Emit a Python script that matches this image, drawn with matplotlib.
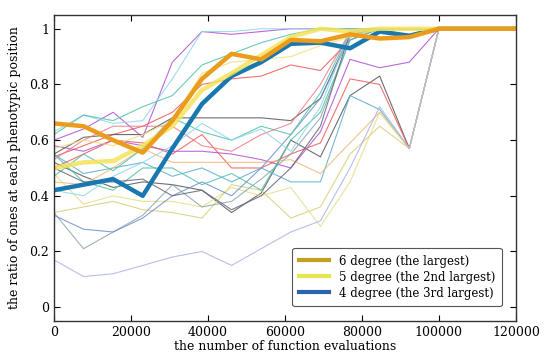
import numpy as np
import matplotlib
matplotlib.use("Agg")
import matplotlib.pyplot as plt
from matplotlib.lines import Line2D

plt.rcParams["font.family"] = "DejaVu Serif"

# evaluation points (last one is the end of the run)
evals = [0, 7692, 15385, 23077, 30769, 38462, 46154, 53846, 61538,
         69231, 76923, 84615, 92308, 100000, 120000]

# thick lines: the three largest-degree positions
deg6 = [0.66, 0.65, 0.60, 0.555, 0.67, 0.82, 0.91, 0.89, 0.96, 0.955, 0.98, 0.965, 0.97, 1.0, 1.0]
deg5 = [0.50, 0.52, 0.525, 0.58, 0.65, 0.78, 0.84, 0.905, 0.97, 1.0, 0.99, 1.0, 1.0, 1.0, 1.0]
deg4 = [0.42, 0.44, 0.46, 0.40, 0.57, 0.73, 0.83, 0.88, 0.946, 0.95, 0.93, 0.99, 0.975, 1.0, 1.0]

# thin lines: all other positions
others = [
    [0.60, 0.64, 0.70, 0.61, 0.88, 0.99, 0.98, 0.99, 1.0, 1.0, 1.0, 1.0, 1.0, 1.0, 1.0],
    [0.63, 0.69, 0.66, 0.67, 0.82, 0.99, 0.99, 1.0, 1.0, 1.0, 1.0, 1.0, 1.0, 1.0, 1.0],
    [0.62, 0.69, 0.67, 0.72, 0.76, 0.87, 0.91, 0.95, 0.98, 1.0, 1.0, 1.0, 1.0, 1.0, 1.0],
    [0.54, 0.58, 0.62, 0.65, 0.70, 0.80, 0.82, 0.83, 0.87, 0.85, 0.96, 1.0, 1.0, 1.0, 1.0],
    [0.55, 0.61, 0.62, 0.62, 0.68, 0.68, 0.68, 0.68, 0.67, 0.75, 0.98, 1.0, 1.0, 1.0, 1.0],
    [0.52, 0.47, 0.43, 0.45, 0.44, 0.42, 0.34, 0.41, 0.60, 0.54, 0.76, 0.83, 0.57, 1.0, 1.0],
    [0.58, 0.56, 0.60, 0.58, 0.56, 0.56, 0.55, 0.53, 0.50, 0.63, 0.89, 0.86, 0.88, 1.0, 1.0],
    [0.50, 0.55, 0.60, 0.59, 0.55, 0.62, 0.50, 0.50, 0.55, 0.59, 0.82, 0.80, 0.57, 1.0, 1.0],
    [0.55, 0.48, 0.50, 0.52, 0.47, 0.50, 0.45, 0.50, 0.45, 0.45, 0.76, 0.71, 0.57, 1.0, 1.0],
    [0.45, 0.44, 0.50, 0.57, 0.52, 0.52, 0.52, 0.52, 0.53, 0.48, 0.59, 0.70, 0.57, 1.0, 1.0],
    [0.34, 0.36, 0.38, 0.35, 0.34, 0.32, 0.44, 0.42, 0.32, 0.36, 0.55, 0.65, 0.57, 1.0, 1.0],
    [0.48, 0.37, 0.40, 0.38, 0.38, 0.36, 0.43, 0.40, 0.43, 0.29, 0.45, 0.70, 0.57, 1.0, 1.0],
    [0.17, 0.11, 0.12, 0.15, 0.18, 0.20, 0.15, 0.21, 0.27, 0.31, 0.50, 0.72, 0.57, 1.0, 1.0],
    [0.34, 0.21, 0.27, 0.33, 0.44, 0.36, 0.38, 0.46, 0.55, 0.68, 0.96, 1.0, 1.0, 1.0, 1.0],
    [0.33, 0.28, 0.27, 0.32, 0.40, 0.45, 0.40, 0.50, 0.62, 0.75, 0.97, 1.0, 1.0, 1.0, 1.0],
    [0.47, 0.55, 0.49, 0.57, 0.68, 0.63, 0.60, 0.65, 0.62, 0.77, 0.99, 1.0, 1.0, 1.0, 1.0],
    [0.53, 0.60, 0.65, 0.65, 0.65, 0.58, 0.56, 0.62, 0.66, 0.80, 0.99, 1.0, 1.0, 1.0, 1.0],
    [0.55, 0.45, 0.42, 0.50, 0.50, 0.44, 0.48, 0.42, 0.60, 0.70, 0.96, 1.0, 1.0, 1.0, 1.0],
    [0.50, 0.45, 0.45, 0.46, 0.40, 0.42, 0.35, 0.40, 0.50, 0.65, 0.99, 1.0, 1.0, 1.0, 1.0],
    [0.57, 0.60, 0.58, 0.62, 0.67, 0.84, 0.88, 0.89, 0.90, 0.94, 0.97, 1.0, 1.0, 1.0, 1.0],
    [0.42, 0.40, 0.47, 0.52, 0.58, 0.66, 0.60, 0.64, 0.56, 0.72, 0.99, 1.0, 1.0, 1.0, 1.0],
]
other_colors = ["#b24fd6", "#8fd6ea", "#4fc2a8", "#ea5a5a", "#555555",
                "#555555", "#b24fd6", "#ea5a5a", "#5aaed0", "#f2b87a",
                "#d8cf7a", "#e6dc8a", "#aab4e8", "#8aa6b0", "#6f8fd0",
                "#4fc2a8", "#f07a8a", "#4fc2a8", "#666677", "#f0e07a",
                "#8fd6ea"]

legend_labels = ["6 degree (the largest)", "5 degree (the 2nd largest)",
                 "4 degree (the 3rd largest)"]

fig, ax = plt.subplots(figsize=(5.5, 3.62), dpi=100)

for ys, c in zip(others, other_colors):
    ax.plot(evals, ys, color=c, lw=0.8, alpha=0.85)

ax.plot(evals, deg4, color="#1a78b0", lw=3.2)
ax.plot(evals, deg5, color="#f5e35a", lw=3.2, alpha=0.85)
ax.plot(evals, deg6, color="#ec9c1c", lw=3.2)

handles = [Line2D([], [], color="#c4a020", lw=3),
           Line2D([], [], color="#e6e650", lw=3),
           Line2D([], [], color="#2a64b0", lw=3)]
leg = ax.legend(handles, legend_labels, loc="lower right", fontsize=8.5,
                fancybox=True, framealpha=1, edgecolor="#555555",
                handlelength=2.6, borderpad=0.55, labelspacing=0.25,
                bbox_to_anchor=(0.982, 0.03))
leg.get_frame().set_linewidth(0.8)

ax.set_xlim(0, 120000)
ax.set_ylim(-0.05, 1.05)
ax.set_xticks([0, 20000, 40000, 60000, 80000, 100000, 120000])
ax.set_yticks([0, 0.2, 0.4, 0.6, 0.8, 1.0])
ax.set_yticklabels(["0", "0.2", "0.4", "0.6", "0.8", "1"])
ax.tick_params(direction="in", top=True, right=True, labelsize=9, length=4, width=0.8)
for sp in ax.spines.values():
    sp.set_linewidth(1.0)
    sp.set_color("#333333")

ax.set_xlabel("the number of function evaluations", fontsize=9, labelpad=1)
ax.set_ylabel("the ratio of ones at each phenotypic position", fontsize=9, labelpad=6)

plt.subplots_adjust(left=0.098, right=0.938, top=0.959, bottom=0.113)
plt.savefig("out.png", dpi=100)
plt.close()
